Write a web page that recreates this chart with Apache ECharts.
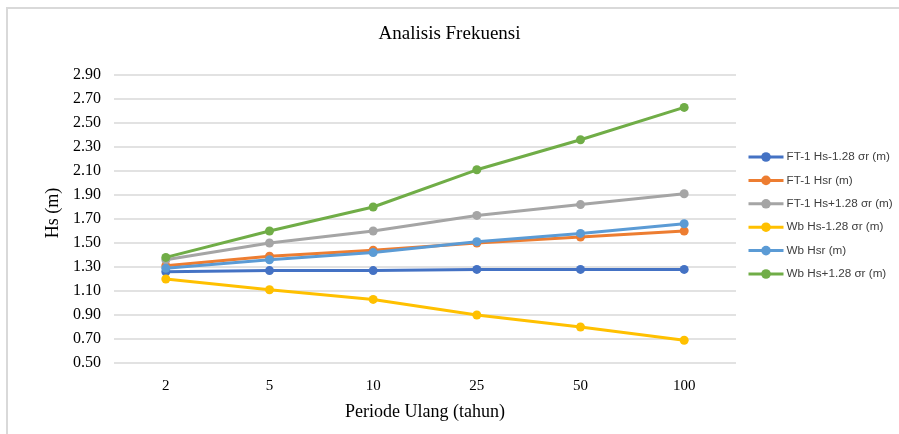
<!DOCTYPE html>
<html lang="id">
<head>
    <meta charset="UTF-8">
    <title>Analisis Frekuensi</title>
    <style>
        * {
            margin: 0;
            padding: 0;
        }

        body {
            background: #fff;
        }

        .frame {
            position: absolute;
            left: 6px;
            top: 7px;
            width: 900px;
            height: 440px;
            border-left: 2px solid #d9d9d9;
            border-top: 2px solid #d9d9d9;
        }

        #myEcharts {
            position: absolute;
            left: 0;
            top: 0;
            width: 899px;
            height: 434px;
        }
    </style>
</head>
<body>
    <div class="frame"></div>
    <div id="myEcharts"></div>
    <script src="https://cdn.jsdelivr.net/npm/echarts@6/dist/echarts.min.js"></script>
    <script>
        // periode ulang (tahun)
        var periode = ["2", "5", "10", "25", "50", "100"];

        var ft1Min = [1.26, 1.27, 1.27, 1.28, 1.28, 1.28];
        var ft1Hsr = [1.31, 1.39, 1.44, 1.50, 1.55, 1.60];
        var ft1Max = [1.36, 1.50, 1.60, 1.73, 1.82, 1.91];
        var wbMin = [1.20, 1.11, 1.03, 0.90, 0.80, 0.69];
        var wbHsr = [1.29, 1.36, 1.42, 1.51, 1.58, 1.66];
        var wbMax = [1.38, 1.60, 1.80, 2.11, 2.36, 2.63];

        var seriesNames = [
            "FT-1 Hs-1.28 σr (m)",
            "FT-1 Hsr (m)",
            "FT-1 Hs+1.28 σr (m)",
            "Wb Hs-1.28 σr (m)",
            "Wb Hsr (m)",
            "Wb Hs+1.28 σr (m)"
        ];
        var seriesData = [ft1Min, ft1Hsr, ft1Max, wbMin, wbHsr, wbMax];
        var colors = ["#4472C4", "#ED7D31", "#A5A5A5", "#FFC000", "#5B9BD5", "#70AD47"];

        var serifFont = "'Liberation Serif', 'DejaVu Serif', serif";

        var myEcharts = echarts.init(document.getElementById("myEcharts"));

        var series = seriesNames.map(function (name, i) {
            return {
                name: name,
                type: "line",
                data: seriesData[i],
                symbol: "circle",
                symbolSize: 9,
                lineStyle: { width: 3, color: colors[i] },
                itemStyle: { color: colors[i] },
                z: 2 + i
            };
        });

        var option = {
            animation: false,
            color: colors,
            title: {
                text: "Analisis Frekuensi",
                left: "center",
                top: 20,
                textStyle: {
                    fontFamily: serifFont,
                    fontSize: 19,
                    fontWeight: "normal",
                    color: "#000"
                }
            },
            legend: {
                orient: "vertical",
                left: 747,
                top: 151,
                padding: 0,
                itemWidth: 35,
                itemHeight: 12,
                itemGap: 11.4,
                data: seriesNames,
                lineStyle: { width: 3 },
                textStyle: {
                    fontFamily: "'Liberation Sans', Arial, sans-serif",
                    fontSize: 11.7,
                    color: "#404040",
                    padding: [0, 0, 0, -2]
                }
            },
            grid: {
                left: 114,
                right: 163,
                top: 75,
                bottom: 71
            },
            xAxis: {
                type: "category",
                data: periode,
                boundaryGap: true,
                name: "Periode Ulang (tahun)",
                nameLocation: "middle",
                nameGap: 40,
                nameTextStyle: {
                    fontFamily: serifFont,
                    fontSize: 18,
                    color: "#000"
                },
                axisLine: { show: false },
                axisTick: { show: false },
                axisLabel: {
                    margin: 16,
                    fontFamily: serifFont,
                    fontSize: 15,
                    color: "#000"
                }
            },
            yAxis: {
                type: "value",
                min: 0.5,
                max: 2.9,
                interval: 0.2,
                name: "Hs (m)",
                nameLocation: "middle",
                nameGap: 47,
                nameTextStyle: {
                    fontFamily: serifFont,
                    fontSize: 18,
                    color: "#000",
                    padding: [0, 0, 0, 12]
                },
                axisLine: { show: false },
                axisTick: { show: false },
                splitLine: { lineStyle: { color: "#d9d9d9", width: 1.5 } },
                axisLabel: {
                    margin: 13,
                    fontFamily: serifFont,
                    fontSize: 16,
                    color: "#000",
                    formatter: function (v) { return v.toFixed(2); }
                }
            },
            series: series
        };

        myEcharts.setOption(option);
    </script>
</body>
</html>
